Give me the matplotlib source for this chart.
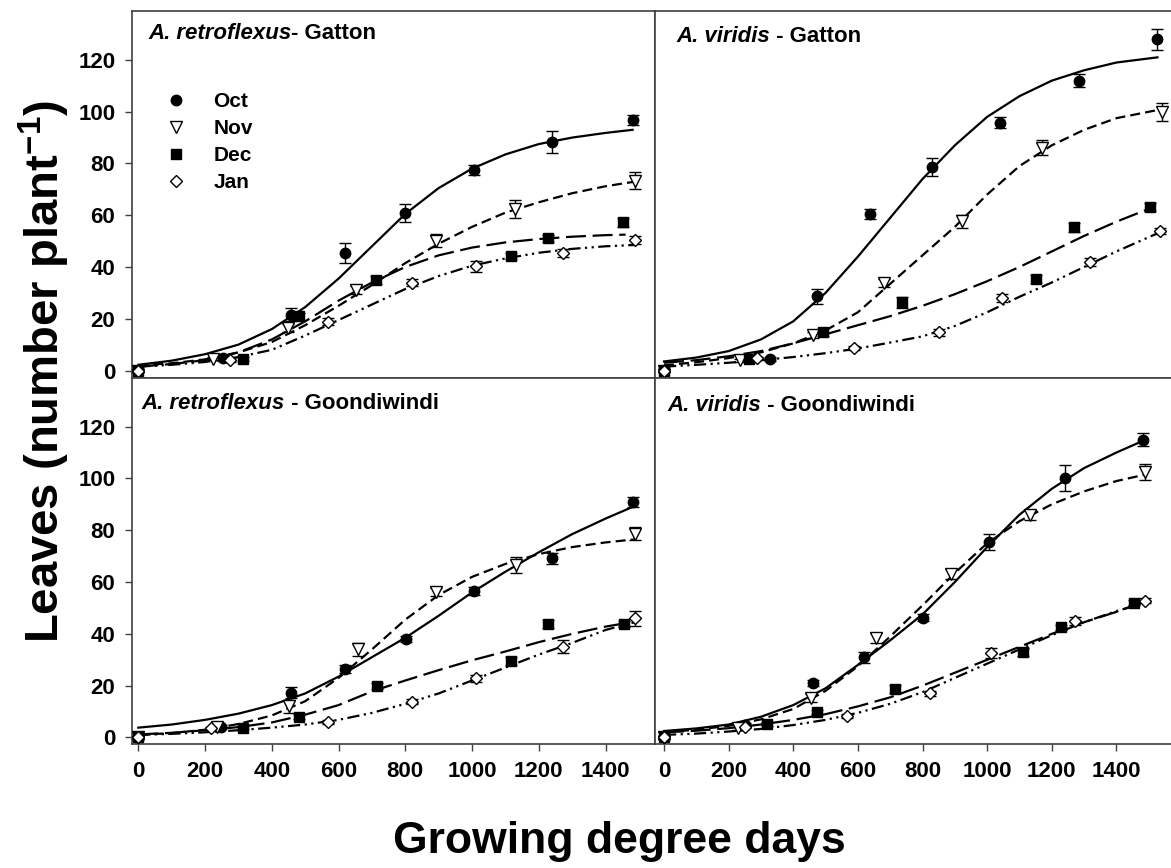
import matplotlib
matplotlib.use("Agg")
import matplotlib.pyplot as plt
from matplotlib.lines import Line2D

plt.rcParams['font.family'] = ['Liberation Sans', 'DejaVu Sans']
plt.rcParams['mathtext.fontset'] = 'custom'
plt.rcParams['mathtext.rm'] = 'Liberation Sans'
plt.rcParams['mathtext.bf'] = 'Liberation Sans:bold'

months = ['Oct', 'Nov', 'Dec', 'Jan']
fit_gdd = [0, 100, 200, 300, 400, 500, 600, 700, 800, 900, 1000, 1100, 1200, 1300, 1400]
y_ticks = [0, 20, 40, 60, 80, 100, 120]
x_ticks = [0, 200, 400, 600, 800, 1000, 1200, 1400]

# ---- A. retroflexus - Gatton ----
rg_oct_gdd = [0, 253, 458, 618, 800, 1005, 1240, 1481]
rg_oct_leaves = [0, 4.8, 21.5, 45.3, 60.8, 77.5, 88.2, 96.8]
rg_oct_se = [0.5, 1.0, 2.5, 3.9, 3.4, 2.0, 4.3, 2.1]
rg_oct_fit = [2.2, 3.8, 6.3, 10, 16, 24.5, 35.5, 48, 60.5, 70.5, 78, 83.5, 87.5, 90, 91.8, 93]
rg_oct_end = 1481

rg_nov_gdd = [0, 225, 448, 653, 891, 1130, 1489]
rg_nov_leaves = [0, 4.5, 16.4, 31.2, 50.2, 62.3, 73.4]
rg_nov_se = [0.5, 0.6, 1.5, 1.5, 2.5, 3.5, 3.2]
rg_nov_fit = [2, 2.8, 4.3, 7, 11, 17.5, 25, 33, 41.5, 49, 55.5, 61, 65, 68.5, 71.2, 73]
rg_nov_end = 1489

rg_dec_gdd = [0, 315, 480, 713, 1118, 1228, 1453]
rg_dec_leaves = [0, 4.4, 20.9, 35.0, 44.3, 51.1, 57.2]
rg_dec_se = [0.5, 0.7, 1.5, 1.5, 1.2, 1.3, 1.8]
rg_dec_fit = [1.5, 2.5, 4, 7, 12, 19, 27, 34, 40, 44.5, 47.5, 49.5, 50.8, 51.7, 52.3, 52.5]
rg_dec_end = 1460

rg_jan_gdd = [0, 276, 569, 820, 1011, 1273, 1487]
rg_jan_leaves = [0, 4.1, 18.9, 34.0, 40.2, 45.3, 50.5]
rg_jan_se = [0.5, 0.7, 1.5, 1.5, 2.0, 1.5, 1.5]
rg_jan_fit = [1.5, 2.2, 3.3, 5.2, 8, 13.5, 19.5, 25.5, 31.5, 36.5, 40.5, 43.3, 45.5, 47, 48, 48.5]
rg_jan_end = 1487

# ---- A. viridis - Gatton ----
vg_oct_gdd = [0, 328, 475, 639, 828, 1039, 1285, 1527]
vg_oct_leaves = [0, 4.5, 28.6, 60.4, 78.6, 95.8, 112, 128]
vg_oct_se = [0.5, 0.8, 3, 2, 3.5, 2, 2.5, 4]
vg_oct_fit = [3.5, 5, 7.5, 12, 19, 30, 44, 59, 74, 87, 98, 106, 112, 116, 119, 121]
vg_oct_end = 1527

vg_nov_gdd = [0, 236, 461, 681, 922, 1169, 1542]
vg_nov_leaves = [0, 4, 13.8, 33.7, 57.6, 86.1, 100]
vg_nov_se = [0.5, 0.6, 1.2, 1.5, 2.5, 3, 3.5]
vg_nov_fit = [2, 3.2, 4.8, 7, 10.5, 15.5, 22.5, 33.5, 44.5, 55.5, 68, 79, 87, 93, 97.5, 101]
vg_nov_end = 1542

vg_dec_gdd = [0, 262, 492, 738, 1152, 1268, 1505]
vg_dec_leaves = [0, 4.4, 14.7, 26.3, 35.3, 55.3, 63.1]
vg_dec_se = [0.5, 0.7, 1.2, 2, 1.5, 1.8, 1.5]
vg_dec_fit = [3, 4, 5.5, 7.5, 10.5, 14, 17.5, 21, 25, 29.5, 34.5, 40, 46, 52, 57.5, 62.7]
vg_dec_end = 1505

vg_jan_gdd = [0, 287, 589, 851, 1046, 1319, 1536]
vg_jan_leaves = [0, 4.8, 8.6, 14.7, 28.0, 41.9, 54.0]
vg_jan_se = [0.5, 0.6, 0.8, 1.2, 1.5, 1.5, 1.2]
vg_jan_fit = [1.5, 2.2, 3, 4, 5.2, 6.7, 8.5, 10.8, 13.2, 17.2, 22.5, 28.5, 34, 40, 46, 53.5]
vg_jan_end = 1536

# ---- A. retroflexus - Goondiwindi ----
rd_oct_gdd = [0, 248, 458, 618, 801, 1006, 1240, 1481]
rd_oct_leaves = [0, 4.2, 17.3, 26.3, 37.9, 56.6, 69.1, 90.9]
rd_oct_se = [0.5, 0.6, 2, 1.5, 1.2, 1.5, 2, 2]
rd_oct_fit = [3.8, 5, 6.8, 9.2, 12.5, 17, 23.5, 31, 38.5, 47, 56, 64, 71.5, 78.5, 84.5, 89]
rd_oct_end = 1481

rd_nov_gdd = [0, 235, 453, 658, 893, 1131, 1489]
rd_nov_leaves = [0, 4, 12, 34, 56.2, 66.5, 78.7]
rd_nov_se = [0.5, 0.6, 2.5, 2.5, 1.5, 3, 2.5]
rd_nov_fit = [1, 1.7, 3, 5.2, 8.5, 14, 23, 34, 45.5, 55, 62, 67, 70.8, 73.5, 75.3, 76.5]
rd_nov_end = 1489

rd_dec_gdd = [0, 313, 480, 716, 1118, 1228, 1454]
rd_dec_leaves = [0, 3.8, 8, 19.9, 29.6, 43.8, 43.8]
rd_dec_se = [0.5, 0.6, 1, 1, 1.5, 1.5, 1]
rd_dec_fit = [1.2, 1.8, 2.8, 4, 5.8, 8.8, 12.5, 17.8, 22, 26, 29.8, 33.2, 36.8, 40, 42.8, 44]
rd_dec_end = 1454

rd_jan_gdd = [0, 218, 569, 820, 1011, 1273, 1487]
rd_jan_leaves = [0, 3.5, 6.1, 13.8, 22.8, 35, 46]
rd_jan_se = [0.5, 0.5, 0.8, 1, 1.2, 2.5, 3]
rd_jan_fit = [1, 1.4, 2, 2.8, 3.8, 5, 6.8, 9.5, 13, 17, 22, 27, 32, 36.5, 41.5, 44.5]
rd_jan_end = 1487

# ---- A. viridis - Goondiwindi ----
vd_oct_gdd = [0, 250, 460, 619, 800, 1006, 1242, 1482]
vd_oct_leaves = [0, 4.8, 21, 30.9, 46.3, 75.5, 100, 115]
vd_oct_se = [0.5, 0.6, 1, 2, 1.5, 3, 5, 2.5]
vd_oct_fit = [2.5, 3.5, 5, 8, 12.5, 19, 28, 37.5, 47.5, 60, 73.5, 86, 96, 104, 110, 114.5]
vd_oct_end = 1482

vd_nov_gdd = [0, 230, 454, 656, 888, 1133, 1490]
vd_nov_leaves = [0, 3.5, 15.1, 38.3, 63.1, 85.8, 102.5]
vd_nov_se = [0.5, 0.5, 1.5, 2, 2, 2, 3]
vd_nov_fit = [2, 3, 4.5, 7, 11, 18, 27.5, 39, 51, 63.5, 75, 83.5, 90, 95, 99, 101.5]
vd_nov_end = 1490

vd_dec_gdd = [0, 319, 474, 715, 1112, 1229, 1454]
vd_dec_leaves = [0, 5.2, 10, 18.6, 33.1, 42.5, 52]
vd_dec_se = [0.5, 0.6, 0.8, 1.5, 1.5, 1, 1]
vd_dec_fit = [2, 2.6, 3.6, 5, 6.8, 9, 12, 15.5, 20, 25, 30, 35, 40, 44.5, 48.5, 51]
vd_dec_end = 1454

vd_jan_gdd = [0, 250, 566, 823, 1012, 1273, 1490]
vd_jan_leaves = [0, 4, 8.3, 17, 32.7, 45, 52.8]
vd_jan_se = [0.5, 0.5, 0.8, 1, 2, 1.5, 1]
vd_jan_fit = [1, 1.5, 2.3, 3.3, 4.8, 6.8, 9.5, 13, 17.5, 23, 28.5, 34, 39.5, 44.5, 48.8, 52]
vd_jan_end = 1490

# marker / line style per month (Oct, Nov, Dec, Jan)
markers = ['o', 'v', 's', 'D']
marker_sizes = [7.5, 8, 6.5, 6.5]
face_colors = ['black', 'white', 'black', 'white']
dash_styles = [(None, None), (4.5, 2.3), (9, 3), (5.5, 2, 1, 2, 1, 2)]

frame_col = '#404040'

fig = plt.figure(figsize=(11.71, 8.68), dpi=100)
ax_rg = fig.add_axes([0.1127, 0.5645, 0.4466, 0.4228])
ax_vg = fig.add_axes([0.5593, 0.5645, 0.4410, 0.4228])
ax_rd = fig.add_axes([0.1127, 0.1429, 0.4466, 0.4217])
ax_vd = fig.add_axes([0.5593, 0.1429, 0.4410, 0.4217])


def draw_panel(ax, series):
    for i, (gdd, leaves, se, fit, end) in enumerate(series):
        ls = '-' if i == 0 else (0, dash_styles[i])
        ax.plot(fit_gdd + [end], fit, color='black', lw=1.6, linestyle=ls, zorder=2)
        ax.errorbar(gdd, leaves, yerr=se, fmt=markers[i], ms=marker_sizes[i],
                    mfc=face_colors[i], mec='black', mew=1.0, ecolor='black',
                    elinewidth=1.0, capsize=4, capthick=1.0, zorder=3)
    for sp in ax.spines.values():
        sp.set_color(frame_col)
        sp.set_linewidth(1.2)
    ax.tick_params(direction='out', length=5, width=1, color=frame_col,
                   labelsize=16, pad=7)


def put_title(ax, species, rest, x, y):
    t = ax.text(x, y, species, transform=ax.transAxes, fontsize=16,
                fontweight='bold', fontstyle='italic', va='center', ha='left')
    ax.annotate(rest, xy=(1, 0), xycoords=t, va='bottom', ha='left',
                fontsize=16, fontweight='bold')


draw_panel(ax_rg, [
    (rg_oct_gdd, rg_oct_leaves, rg_oct_se, rg_oct_fit, rg_oct_end),
    (rg_nov_gdd, rg_nov_leaves, rg_nov_se, rg_nov_fit, rg_nov_end),
    (rg_dec_gdd, rg_dec_leaves, rg_dec_se, rg_dec_fit, rg_dec_end),
    (rg_jan_gdd, rg_jan_leaves, rg_jan_se, rg_jan_fit, rg_jan_end),
])
draw_panel(ax_vg, [
    (vg_oct_gdd, vg_oct_leaves, vg_oct_se, vg_oct_fit, vg_oct_end),
    (vg_nov_gdd, vg_nov_leaves, vg_nov_se, vg_nov_fit, vg_nov_end),
    (vg_dec_gdd, vg_dec_leaves, vg_dec_se, vg_dec_fit, vg_dec_end),
    (vg_jan_gdd, vg_jan_leaves, vg_jan_se, vg_jan_fit, vg_jan_end),
])
draw_panel(ax_rd, [
    (rd_oct_gdd, rd_oct_leaves, rd_oct_se, rd_oct_fit, rd_oct_end),
    (rd_nov_gdd, rd_nov_leaves, rd_nov_se, rd_nov_fit, rd_nov_end),
    (rd_dec_gdd, rd_dec_leaves, rd_dec_se, rd_dec_fit, rd_dec_end),
    (rd_jan_gdd, rd_jan_leaves, rd_jan_se, rd_jan_fit, rd_jan_end),
])
draw_panel(ax_vd, [
    (vd_oct_gdd, vd_oct_leaves, vd_oct_se, vd_oct_fit, vd_oct_end),
    (vd_nov_gdd, vd_nov_leaves, vd_nov_se, vd_nov_fit, vd_nov_end),
    (vd_dec_gdd, vd_dec_leaves, vd_dec_se, vd_dec_fit, vd_dec_end),
    (vd_jan_gdd, vd_jan_leaves, vd_jan_se, vd_jan_fit, vd_jan_end),
])

for ax in (ax_rg, ax_rd):
    ax.set_xlim(-19, 1548)
    ax.set_yticks(y_ticks)
for ax in (ax_vg, ax_vd):
    ax.set_xlim(-28, 1570)
    ax.tick_params(left=False, labelleft=False)
    ax.spines['right'].set_visible(False)
for ax in (ax_rg, ax_vg):
    ax.set_ylim(-2.9, 138.9)
    ax.tick_params(bottom=False, labelbottom=False)
for ax in (ax_rd, ax_vd):
    ax.set_ylim(-2.5, 138.8)
    ax.set_xticks(x_ticks)
for ax in (ax_rg, ax_vg, ax_rd, ax_vd):
    for lab in ax.get_xticklabels() + ax.get_yticklabels():
        lab.set_fontweight('bold')

put_title(ax_rg, 'A. retroflexus', '- Gatton', 0.031, 0.939)
put_title(ax_vg, 'A. viridis', ' - Gatton', 0.041, 0.930)
put_title(ax_rd, 'A. retroflexus', ' - Goondiwindi', 0.019, 0.931)
put_title(ax_vd, 'A. viridis', ' - Goondiwindi', 0.024, 0.926)

handles = [Line2D([], [], linestyle='none', marker=markers[i], ms=marker_sizes[i],
                  mfc=face_colors[i], mec='black', mew=1.0) for i in range(4)]
ax_rg.legend(handles, months, loc='upper left', bbox_to_anchor=(0.064, 0.779),
             frameon=False, prop=dict(weight='bold', size=15), handlelength=1.0,
             handletextpad=1.3, labelspacing=0.38, borderaxespad=0, borderpad=0)

fig.text(0.038, 0.572, r'Leaves (number plant$^{\mathbf{-1}}$)', rotation=90,
         fontsize=34, fontweight='bold', ha='center', va='center')
fig.text(0.529, 0.030, 'Growing degree days', fontsize=32, fontweight='bold',
         ha='center', va='center')

fig.savefig('out.png', dpi=100)
